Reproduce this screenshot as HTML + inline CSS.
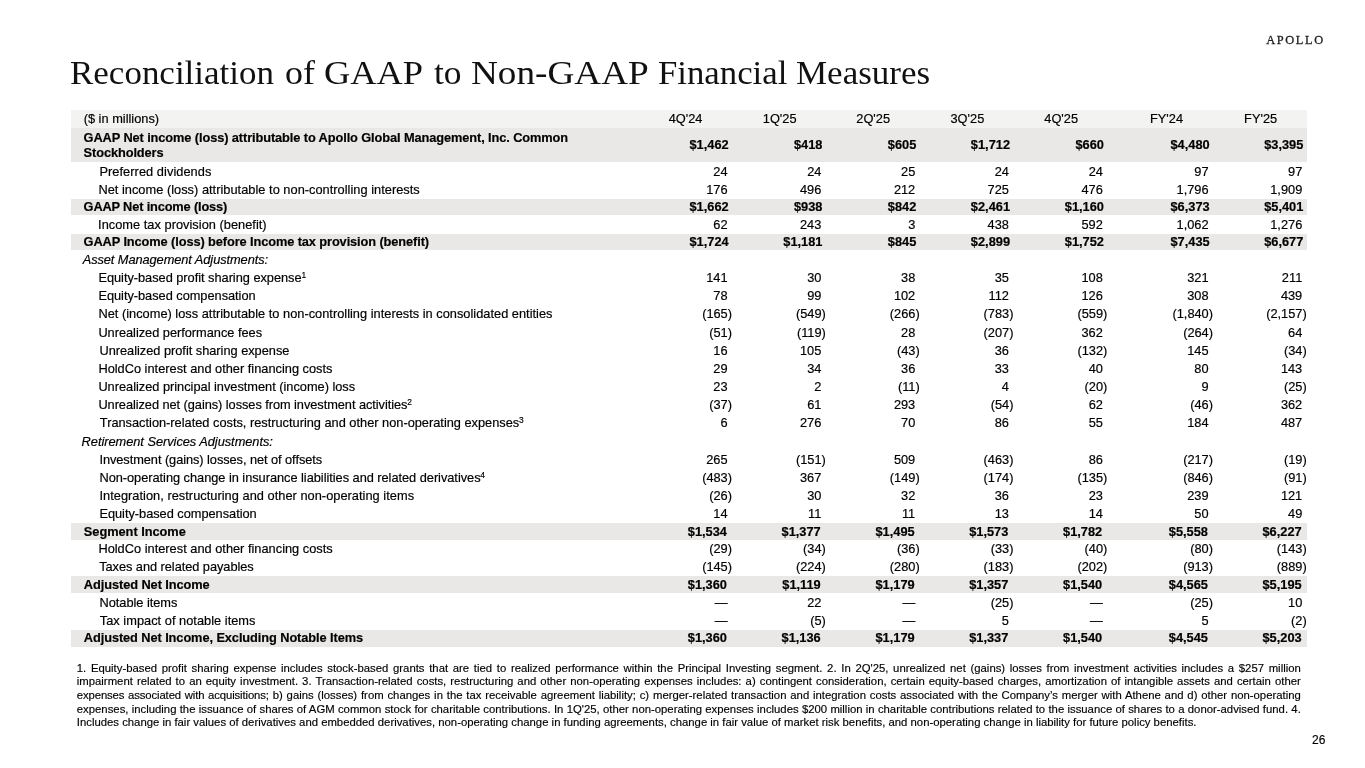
<!DOCTYPE html>
<html><head><meta charset="utf-8"><title>Reconciliation of GAAP to Non-GAAP Financial Measures</title>
<style>
html,body{margin:0;padding:0;background:#fff;}
body{width:1365px;height:768px;position:relative;overflow:hidden;font-family:"Liberation Sans",sans-serif;color:#000;}
#s{position:absolute;left:0;top:0;width:1365px;height:768px;will-change:transform;background:#fff;}
.logo{position:absolute;left:1266.2px;top:33px;font-family:"Liberation Serif",serif;font-size:12.4px;line-height:14px;letter-spacing:1.62px;color:#1f1f1f;-webkit-text-stroke:0.3px #1f1f1f;white-space:nowrap;}
.title{position:absolute;left:0;top:50.3px;font-family:"Liberation Serif",serif;font-size:34.5px;line-height:44px;white-space:nowrap;color:#111;}
.title span{position:absolute;top:0;transform-origin:0 0;}
.band{position:absolute;left:70.5px;width:1236.7px;}
.r{position:absolute;left:0;width:1365px;height:18px;line-height:18px;font-size:12.8px;white-space:nowrap;-webkit-text-stroke:0.18px #000;}
.r span{position:absolute;top:0;}
.b{font-weight:bold;}
.i{font-style:italic;}
sup{font-size:8.4px;letter-spacing:0;line-height:0;vertical-align:baseline;position:relative;top:-3.8px;margin-left:-0.2px;}
.b .l{letter-spacing:-0.1px;}
.foot{position:absolute;left:76.8px;width:1224px;top:661.9px;font-size:11.33px;line-height:13.58px;-webkit-text-stroke:0.15px #000;}
.foot div{height:13.58px;white-space:nowrap;text-align:justify;text-align-last:justify;}
.foot div.last{text-align:left;text-align-last:left;}
.pg{position:absolute;left:1312px;top:733.3px;font-size:12px;line-height:14px;-webkit-text-stroke:0.15px #000;}
</style></head><body><div id="s">
<div class="logo">APOLLO</div>
<div class="title"><span style="left:70.4px;transform:scaleX(1.0140)">Reconciliation</span> <span style="left:284.8px;transform:scaleX(1.0429)">of</span> <span style="left:324.1px;transform:scaleX(1.0543)">GAAP</span> <span style="left:434.1px;transform:scaleX(1.0292)">to</span> <span style="left:470.8px;transform:scaleX(1.0785)">Non-GAAP</span> <span style="left:658.3px;transform:scaleX(1.0071)">Financial</span> <span style="left:796.1px;transform:scaleX(1.0146)">Measures</span> </div>
<div class="band" style="top:110.4px;height:17.90px;background:#f3f3f2"></div>
<div class="r" style="top:110px"><span class="l" style="left:83.7px;letter-spacing:0.000px">($ in millions)</span><span style="left:668.7px">4Q'24</span><span style="left:762.8px">1Q'25</span><span style="left:856.3px">2Q'25</span><span style="left:950.5px">3Q'25</span><span style="left:1044.3px">4Q'25</span><span style="left:1150.0px">FY'24</span><span style="left:1244.1px">FY'25</span></div>
<div class="band" style="top:128.3px;height:33.90px;background:#e9e8e6"></div>
<div class="r b" style="top:129px"><span class="l" style="left:83.6px">GAAP Net income (loss) attributable to Apollo Global Management, Inc. Common</span></div>
<div class="r b" style="top:144px"><span class="l" style="left:83.6px">Stockholders</span></div>
<div class="r b" style="top:136px"><span style="right:636.40px">$1,462</span><span style="right:542.60px">$418</span><span style="right:448.70px">$605</span><span style="right:355.00px">$1,712</span><span style="right:261.10px">$660</span><span style="right:155.40px">$4,480</span><span style="right:61.70px">$3,395</span></div>
<div class="r" style="top:163px"><span class="l" style="left:99.45px;letter-spacing:0.053px">Preferred dividends</span><span style="right:637.45px">24</span><span style="right:543.65px">24</span><span style="right:449.75px">25</span><span style="right:356.05px">24</span><span style="right:262.15px">24</span><span style="right:156.45px">97</span><span style="right:62.75px">97</span></div>
<div class="r" style="top:181px"><span class="l" style="left:98.4px;letter-spacing:0.022px">Net income (loss) attributable to non-controlling interests</span><span style="right:637.45px">176</span><span style="right:543.65px">496</span><span style="right:449.75px">212</span><span style="right:356.05px">725</span><span style="right:262.15px">476</span><span style="right:156.45px">1,796</span><span style="right:62.75px">1,909</span></div>
<div class="band" style="top:198.55px;height:16.95px;background:#e9e8e6"></div>
<div class="r b" style="top:198px"><span class="l" style="left:83.6px;letter-spacing:-0.159px">GAAP Net income (loss)</span><span style="right:636.40px">$1,662</span><span style="right:542.60px">$938</span><span style="right:448.70px">$842</span><span style="right:355.00px">$2,461</span><span style="right:261.10px">$1,160</span><span style="right:155.40px">$6,373</span><span style="right:61.70px">$5,401</span></div>
<div class="r" style="top:216px"><span class="l" style="left:98.1px;letter-spacing:0.023px">Income tax provision (benefit)</span><span style="right:637.45px">62</span><span style="right:543.65px">243</span><span style="right:449.75px">3</span><span style="right:356.05px">438</span><span style="right:262.15px">592</span><span style="right:156.45px">1,062</span><span style="right:62.75px">1,276</span></div>
<div class="band" style="top:233.6px;height:16.60px;background:#e9e8e6"></div>
<div class="r b" style="top:233px"><span class="l" style="left:83.6px;letter-spacing:-0.100px">GAAP Income (loss) before Income tax provision (benefit)</span><span style="right:636.40px">$1,724</span><span style="right:542.60px">$1,181</span><span style="right:448.70px">$845</span><span style="right:355.00px">$2,899</span><span style="right:261.10px">$1,752</span><span style="right:155.40px">$7,435</span><span style="right:61.70px">$6,677</span></div>
<div class="r i" style="top:251px"><span class="l" style="left:82.7px;letter-spacing:-0.069px">Asset Management Adjustments:</span></div>
<div class="r" style="top:269px"><span class="l" style="left:98.4px;letter-spacing:-0.028px">Equity-based profit sharing expense<sup>1</sup></span><span style="right:637.45px">141</span><span style="right:543.65px">30</span><span style="right:449.75px">38</span><span style="right:356.05px">35</span><span style="right:262.15px">108</span><span style="right:156.45px">321</span><span style="right:62.75px">211</span></div>
<div class="r" style="top:287px"><span class="l" style="left:98.4px;letter-spacing:-0.028px">Equity-based compensation</span><span style="right:637.45px">78</span><span style="right:543.65px">99</span><span style="right:449.75px">102</span><span style="right:356.05px">112</span><span style="right:262.15px">126</span><span style="right:156.45px">308</span><span style="right:62.75px">439</span></div>
<div class="r" style="top:305px"><span class="l" style="left:98.4px;letter-spacing:0.012px">Net (income) loss attributable to non-controlling interests in consolidated entities</span><span style="right:633.00px">(165)</span><span style="right:539.20px">(549)</span><span style="right:445.30px">(266)</span><span style="right:351.60px">(783)</span><span style="right:257.70px">(559)</span><span style="right:152.00px">(1,840)</span><span style="right:58.30px">(2,157)</span></div>
<div class="r" style="top:324px"><span class="l" style="left:98.4px;letter-spacing:-0.026px">Unrealized performance fees</span><span style="right:633.00px">(51)</span><span style="right:539.20px">(119)</span><span style="right:449.75px">28</span><span style="right:351.60px">(207)</span><span style="right:262.15px">362</span><span style="right:152.00px">(264)</span><span style="right:62.75px">64</span></div>
<div class="r" style="top:342px"><span class="l" style="left:99.45px;letter-spacing:-0.021px">Unrealized profit sharing expense</span><span style="right:637.45px">16</span><span style="right:543.65px">105</span><span style="right:445.30px">(43)</span><span style="right:356.05px">36</span><span style="right:257.70px">(132)</span><span style="right:156.45px">145</span><span style="right:58.30px">(34)</span></div>
<div class="r" style="top:360px"><span class="l" style="left:98.4px;letter-spacing:0.000px">HoldCo interest and other financing costs</span><span style="right:637.45px">29</span><span style="right:543.65px">34</span><span style="right:449.75px">36</span><span style="right:356.05px">33</span><span style="right:262.15px">40</span><span style="right:156.45px">80</span><span style="right:62.75px">143</span></div>
<div class="r" style="top:378px"><span class="l" style="left:98.4px;letter-spacing:-0.016px">Unrealized principal investment (income) loss</span><span style="right:637.45px">23</span><span style="right:543.65px">2</span><span style="right:445.30px">(11)</span><span style="right:356.05px">4</span><span style="right:257.70px">(20)</span><span style="right:156.45px">9</span><span style="right:58.30px">(25)</span></div>
<div class="r" style="top:396px"><span class="l" style="left:98.4px;letter-spacing:-0.058px">Unrealized net (gains) losses from investment activities<sup>2</sup></span><span style="right:633.00px">(37)</span><span style="right:543.65px">61</span><span style="right:449.75px">293</span><span style="right:351.60px">(54)</span><span style="right:262.15px">62</span><span style="right:152.00px">(46)</span><span style="right:62.75px">362</span></div>
<div class="r" style="top:414px"><span class="l" style="left:99.8px;letter-spacing:-0.007px">Transaction-related costs, restructuring and other non-operating expenses<sup>3</sup></span><span style="right:637.45px">6</span><span style="right:543.65px">276</span><span style="right:449.75px">70</span><span style="right:356.05px">86</span><span style="right:262.15px">55</span><span style="right:156.45px">184</span><span style="right:62.75px">487</span></div>
<div class="r i" style="top:433px"><span class="l" style="left:81.6px;letter-spacing:-0.031px">Retirement Services Adjustments:</span></div>
<div class="r" style="top:451px"><span class="l" style="left:99.45px;letter-spacing:-0.063px">Investment (gains) losses, net of offsets</span><span style="right:637.45px">265</span><span style="right:539.20px">(151)</span><span style="right:449.75px">509</span><span style="right:351.60px">(463)</span><span style="right:262.15px">86</span><span style="right:152.00px">(217)</span><span style="right:58.30px">(19)</span></div>
<div class="r" style="top:469px"><span class="l" style="left:99.45px;letter-spacing:-0.034px">Non-operating change in insurance liabilities and related derivatives<sup>4</sup></span><span style="right:633.00px">(483)</span><span style="right:543.65px">367</span><span style="right:445.30px">(149)</span><span style="right:351.60px">(174)</span><span style="right:257.70px">(135)</span><span style="right:152.00px">(846)</span><span style="right:58.30px">(91)</span></div>
<div class="r" style="top:487px"><span class="l" style="left:99.45px;letter-spacing:0.029px">Integration, restructuring and other non-operating items</span><span style="right:633.00px">(26)</span><span style="right:543.65px">30</span><span style="right:449.75px">32</span><span style="right:356.05px">36</span><span style="right:262.15px">23</span><span style="right:156.45px">239</span><span style="right:62.75px">121</span></div>
<div class="r" style="top:505px"><span class="l" style="left:99.45px;letter-spacing:-0.028px">Equity-based compensation</span><span style="right:637.45px">14</span><span style="right:543.65px">11</span><span style="right:449.75px">11</span><span style="right:356.05px">13</span><span style="right:262.15px">14</span><span style="right:156.45px">50</span><span style="right:62.75px">49</span></div>
<div class="band" style="top:522.65px;height:17.25px;background:#e9e8e6"></div>
<div class="r b" style="top:523px"><span class="l" style="left:83.8px;letter-spacing:-0.029px">Segment Income</span><span style="right:638.10px">$1,534</span><span style="right:544.30px">$1,377</span><span style="right:450.40px">$1,495</span><span style="right:356.70px">$1,573</span><span style="right:262.80px">$1,782</span><span style="right:157.10px">$5,558</span><span style="right:63.40px">$6,227</span></div>
<div class="r" style="top:540px"><span class="l" style="left:98.4px;letter-spacing:0.007px">HoldCo interest and other financing costs</span><span style="right:633.00px">(29)</span><span style="right:539.20px">(34)</span><span style="right:445.30px">(36)</span><span style="right:351.60px">(33)</span><span style="right:257.70px">(40)</span><span style="right:152.00px">(80)</span><span style="right:58.30px">(143)</span></div>
<div class="r" style="top:558px"><span class="l" style="left:99.2px;letter-spacing:-0.050px">Taxes and related payables</span><span style="right:633.00px">(145)</span><span style="right:539.20px">(224)</span><span style="right:445.30px">(280)</span><span style="right:351.60px">(183)</span><span style="right:257.70px">(202)</span><span style="right:152.00px">(913)</span><span style="right:58.30px">(889)</span></div>
<div class="band" style="top:576.25px;height:16.85px;background:#e9e8e6"></div>
<div class="r b" style="top:576px"><span class="l" style="left:83.8px;letter-spacing:-0.074px">Adjusted Net Income</span><span style="right:638.10px">$1,360</span><span style="right:544.30px">$1,119</span><span style="right:450.40px">$1,179</span><span style="right:356.70px">$1,357</span><span style="right:262.80px">$1,540</span><span style="right:157.10px">$4,565</span><span style="right:63.40px">$5,195</span></div>
<div class="r" style="top:594px"><span class="l" style="left:99.45px;letter-spacing:-0.023px">Notable items</span><span style="right:637.50px">—</span><span style="right:543.65px">22</span><span style="right:449.80px">—</span><span style="right:351.60px">(25)</span><span style="right:262.20px">—</span><span style="right:152.00px">(25)</span><span style="right:62.75px">10</span></div>
<div class="r" style="top:612px"><span class="l" style="left:99.8px;letter-spacing:0.022px">Tax impact of notable items</span><span style="right:637.50px">—</span><span style="right:539.20px">(5)</span><span style="right:449.80px">—</span><span style="right:356.05px">5</span><span style="right:262.20px">—</span><span style="right:156.45px">5</span><span style="right:58.30px">(2)</span></div>
<div class="band" style="top:629.5px;height:17.10px;background:#e9e8e6"></div>
<div class="r b" style="top:629px"><span class="l" style="left:83.8px;letter-spacing:-0.086px">Adjusted Net Income, Excluding Notable Items</span><span style="right:638.10px">$1,360</span><span style="right:544.30px">$1,136</span><span style="right:450.40px">$1,179</span><span style="right:356.70px">$1,337</span><span style="right:262.80px">$1,540</span><span style="right:157.10px">$4,545</span><span style="right:63.40px">$5,203</span></div>
<div class="foot">
<div class="">1. Equity-based profit sharing expense includes stock-based grants that are tied to realized performance within the Principal Investing segment. 2. In 2Q'25, unrealized net (gains) losses from investment activities includes a $257 million</div>
<div class="">impairment related to an equity investment. 3. Transaction-related costs, restructuring and other non-operating expenses includes: a) contingent consideration, certain equity-based charges, amortization of intangible assets and certain other</div>
<div class=""><span style="letter-spacing:-0.12px">expenses associated with acquisitions;</span> b) gains (losses) from changes in the tax receivable agreement liability; c) merger-related transaction and integration costs associated with the Company’s merger with Athene and d) other non-operating</div>
<div class="">expenses, including the issuance of shares of AGM common stock for charitable contributions. In 1Q'25, other non-operating expenses includes $200 million in charitable contributions related to the issuance of shares to a donor-advised fund. 4.</div>
<div class="last">Includes change in fair values of derivatives and embedded derivatives, non-operating change in funding agreements, change in fair value of market risk benefits, and non-operating change in liability for future policy benefits.</div>
</div>
<div class="pg">26</div>
</div></body></html>
